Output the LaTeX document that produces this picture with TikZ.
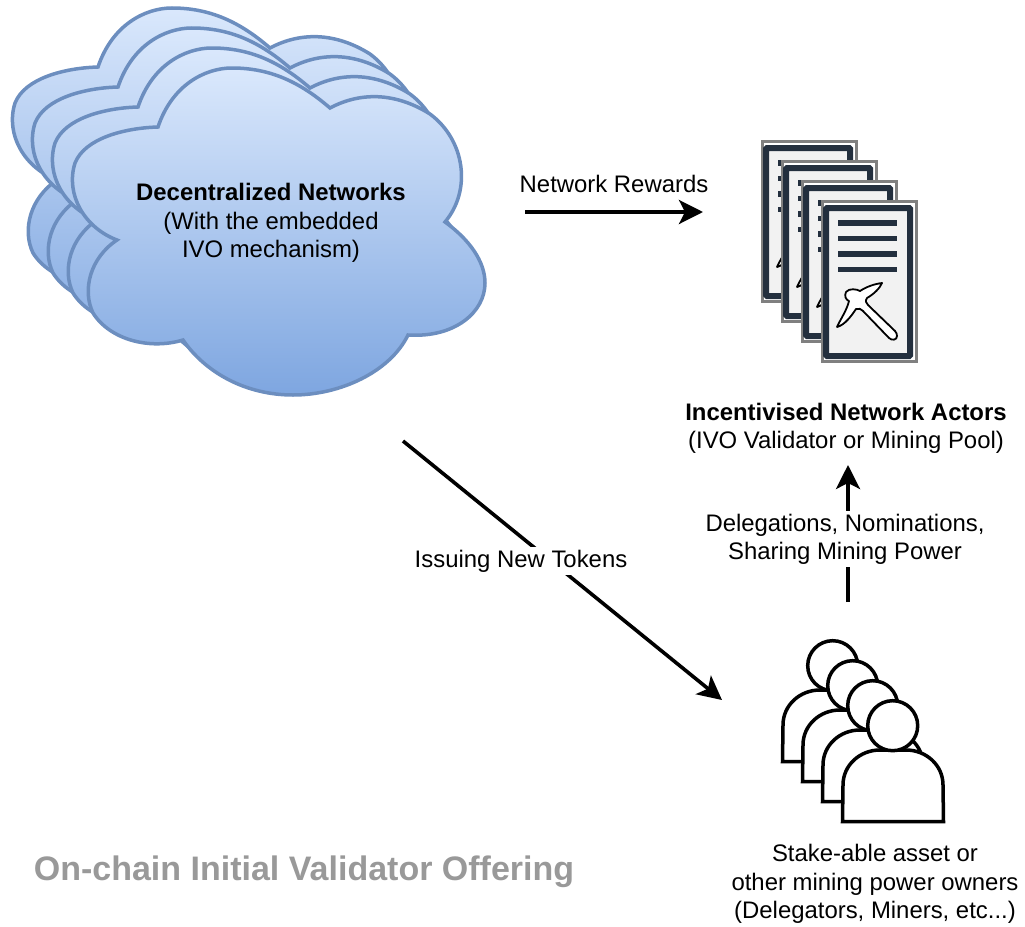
\documentclass[tikz,border=0pt]{standalone}
\usepackage{fontspec}
\setmainfont{Liberation Sans}
\usetikzlibrary{arrows.meta,positioning}
\definecolor{cloudTop}{HTML}{DAE8FC}
\definecolor{cloudBot}{HTML}{7EA6E0}
\definecolor{cloudLine}{HTML}{6C8EBF}
\definecolor{docNavy}{HTML}{232F3E}
\definecolor{docFill}{HTML}{F2F2F2}
\definecolor{docEdge}{HTML}{808080}
\definecolor{titleGray}{HTML}{999999}
\tikzset{
  x=1pt,y=-1pt,
  cloudshape/.style={draw=cloudLine,line width=3.5pt,top color=cloudTop,bottom color=cloudBot,line join=miter},
  flow/.style={draw=black,line width=3.6pt,-{Stealth[length=24pt,width=24pt,inset=6pt]}},
  lbl/.style={font=\fontsize{23.9}{28.2}\selectfont,align=center,inner sep=0pt,text=black},
  gaplbl/.style={lbl,fill=white,inner sep=3pt},
  personpart/.style={draw=black,line width=3.5pt,fill=white,line join=miter},
}
\newcommand{\cloudat}[2]{%
  \path[cloudshape,shift={(#1,#2)}]
    (158,127) .. controls (172,85) and (205,68) .. (232,68)
    .. controls (270,68) and (300,82) .. (330,108)
    .. controls (360,92) and (395,92) .. (430,114)
    .. controls (465,140) and (472,190) .. (445,222)
    .. controls (470,240) and (485,262) .. (485,283)
    .. controls (485,312) and (455,338) .. (408,335)
    .. controls (390,372) and (340,395) .. (293,395)
    .. controls (245,395) and (205,372) .. (183,340)
    .. controls (150,350) and (110,340) .. (93,313)
    .. controls (82,290) and (90,258) .. (117,240)
    .. controls (85,228) and (65,195) .. (75,163)
    .. controls (85,138) and (125,128) .. (158,127) -- cycle;}
\newcommand{\docat}[2]{%
  \begin{scope}[shift={(#1,#2)}]
    \draw[docEdge,line width=3pt,fill=white] (822.5,201.5) rectangle (916.5,361.5);
    \draw[docNavy,line width=6pt,fill=docFill,rounded corners=1pt] (826,208) rectangle (910,356);
    \foreach \yy in {223,238.5,254,269.5}
      \draw[docNavy,line width=5.5pt] (838,\yy) -- (897,\yy);
    \draw[black,line width=1.8pt,fill=white,line join=round]
      (882,283) .. controls (874,284) and (866,287) .. (860,291)
      .. controls (857,289) and (849,288) .. (846,292)
      .. controls (844,296) and (846,300) .. (849,301)
      .. controls (847,310) and (840,320) .. (837,327)
      .. controls (845,325) and (852,315) .. (856,309)
      .. controls (859,308) and (861,309) .. (863,311)
      -- (889,338) .. controls (892,341) and (897,340) .. (897,336)
      .. controls (897.5,334) and (896,333) .. (895,331)
      -- (868,305) .. controls (866,303) and (865,301) .. (867,298)
      .. controls (874,294) and (880,288) .. (882,283) -- cycle;
  \end{scope}}
\newcommand{\personat}[2]{%
  \begin{scope}[shift={(#1,#2)}]
    \path[personpart] (842.5,821.5) -- (843,785)
      .. controls (843,765) and (860,750) .. (880,750)
      -- (906,750) .. controls (926,750) and (943,765) .. (943,785)
      -- (943.5,821.5) -- cycle;
    \path[personpart] (892.7,725.7) circle[radius=25];
  \end{scope}}
\begin{document}
\begin{tikzpicture}
\useasboundingbox (0,0) rectangle (1025,926);
% clouds
\cloudat{-60}{-60}\cloudat{-40}{-40}\cloudat{-20}{-20}\cloudat{0}{0}
\node[lbl] (networks) at (271,223) {\textbf{Decentralized Networks}\\(With the embedded\\IVO mechanism)};
% documents
\docat{-60}{-60}\docat{-40}{-40}\docat{-20}{-20}\docat{0}{0}
\node[lbl] (actors) at (846,428) {\textbf{Incentivised Network Actors}\\(IVO Validator or Mining Pool)};
% people
\personat{-60}{-60}\personat{-40}{-40}\personat{-20}{-20}\personat{0}{0}
\node[lbl] (owners) at (875,884) {Stake-able asset or\\other mining power owners\\(Delegators, Miners, etc...)};
% connectors
\coordinate (rewardsFrom) at (525,212);
\coordinate (rewardsTo) at (703,212);
\coordinate (issueFrom) at (403,441);
\coordinate (issueTo) at (722,700);
\coordinate (delegFrom) at (848,602);
\coordinate (delegTo) at (848,465);
\draw[flow] (rewardsFrom) -- (rewardsTo);
\node[lbl] (rewardsLabel) at (614,184) {Network Rewards};
\draw[flow] (issueFrom) -- (issueTo);
\node[gaplbl] (issueLabel) at (521,561) {Issuing New Tokens};
\draw[flow] (delegFrom) -- (delegTo);
\node[gaplbl] (delegLabel) at (845,539) {Delegations, Nominations,\\Sharing Mining Power};
\node[font=\fontsize{34}{40}\selectfont\bfseries,text=titleGray,inner sep=0pt] (title) at (304,872) {On-chain Initial Validator Offering};
\end{tikzpicture}
\end{document}
